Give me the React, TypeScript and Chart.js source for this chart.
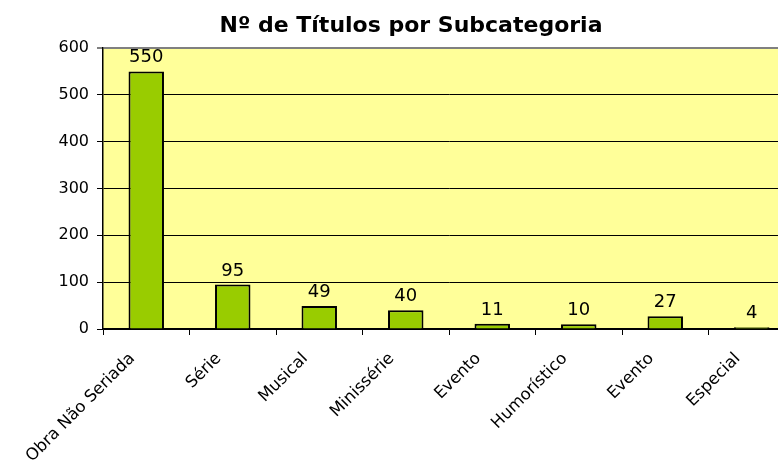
import React, { useEffect, useRef } from "react";
import { Chart, registerables } from "chart.js";

Chart.register(...registerables);

const TITLE = "Nº de Títulos por Subcategoria";
const categories = ["Obra Não Seriada", "Série", "Musical", "Minissérie", "Evento", "Humorístico", "Evento", "Especial"];
const values = [550, 95, 49, 40, 11, 10, 27, 4];
const yMin = 0;
const yMax = 600;
const yStep = 100;

const FONT = "'DejaVu Sans', Verdana, sans-serif";

export default function App() {
  const ref = useRef<HTMLCanvasElement | null>(null);
  useEffect(() => {
    if (!ref.current) return;
    const bgPlugin = {
      id: "bg",
      beforeDraw(chart: any) {
        const { ctx, chartArea: a } = chart;
        ctx.save();
        ctx.fillStyle = "#FFFF99";
        ctx.fillRect(a.left, a.top, a.right - a.left, a.bottom - a.top);
        ctx.restore();
      },
      afterDraw(chart: any) {
        const { ctx } = chart;
        ctx.save();
        ctx.font = "bold 22px " + FONT;
        ctx.fillStyle = "#000";
        ctx.textAlign = "center";
        ctx.textBaseline = "alphabetic";
        ctx.fillText(TITLE, 411, 32);
        ctx.restore();
      },
      afterDatasetsDraw(chart: any) {
        const { ctx } = chart;
        const meta = chart.getDatasetMeta(0);
        ctx.save();
        ctx.font = "18px " + FONT;
        ctx.fillStyle = "#000";
        ctx.textAlign = "center";
        ctx.textBaseline = "alphabetic";
        meta.data.forEach((bar: any, i: number) => {
          ctx.fillText(String(values[i]), bar.x, bar.y - 9);
        });
        ctx.restore();
      },
    };
    const chart = new Chart(ref.current, {
      type: "bar",
      data: {
        labels: categories,
        datasets: [
          {
            data: values,
            backgroundColor: "#99CC00",
            borderColor: "#000000",
            borderWidth: 2,
            categoryPercentage: 1,
            barPercentage: 0.41,
          },
        ],
      },
      options: {
        animation: false,
        responsive: false,
        layout: { padding: { top: 48, right: 27, left: 0, bottom: 0 } },
        plugins: { legend: { display: false }, title: { display: false }, tooltip: { enabled: false } },
        scales: {
          x: {
            grid: { drawOnChartArea: false, color: "#000", tickLength: 6, offset: true },
            border: { color: "#000", width: 1.5 },
            ticks: { color: "#000", font: { family: FONT, size: 16.5 }, minRotation: 45, maxRotation: 45, autoSkip: false, padding: 14, labelOffset: -14 },
            afterFit: (s: any) => { s.height = 134; },
          },
          y: {
            min: yMin,
            max: yMax,
            grid: {
              color: (c: any) => (c.tick && c.tick.value === yMax ? "#808080" : "#000"),
              lineWidth: (c: any) => (c.tick && c.tick.value === yMax ? 2 : 1),
              tickLength: 6,
            },
            border: { color: "#000", width: 1.5 },
            ticks: { stepSize: yStep, color: "#000", font: { family: FONT, size: 16 }, padding: 8 },
            afterFit: (s: any) => { s.width = 103; },
          },
        },
      },
      plugins: [bgPlugin],
    });
    return () => chart.destroy();
  }, []);
  return (
    <div style={{ position: "absolute", left: 0, top: 0, width: 778, height: 463, overflow: "hidden", background: "#fff" }}>
      <canvas ref={ref} width={822} height={463} />
    </div>
  );
}
